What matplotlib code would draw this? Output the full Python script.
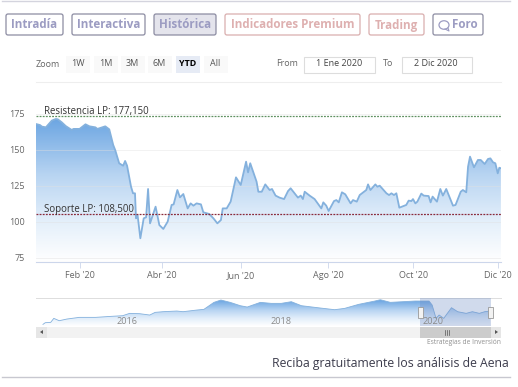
import numpy as np
import matplotlib
matplotlib.use('Agg')
import matplotlib.pyplot as plt
from matplotlib.patches import Rectangle, FancyBboxPatch, Ellipse, Polygon
from matplotlib.colors import LinearSegmentedColormap

plt.rcParams['font.family'] = ['Open Sans', 'DejaVu Sans']

# main series, x is the session number on the ordinal axis
sessions = [0, 2, 3, 5, 6, 8, 10, 11, 13, 15, 18, 19, 22, 25, 27, 30, 31, 33, 35, 37, 39, 40, 42, 44, 45, 46, 48, 49, 50,
            50.5, 51.3, 52.7, 54.4, 55.6, 56.6, 57.6, 60.4, 62.3, 64.3, 66.5, 68.5, 69.5, 71.4, 72.7, 74.4, 76.6, 78.1,
            79.5, 81.1, 83.3, 84.5, 87.5, 89.6, 91.6, 93.4, 94.3, 96.3, 98.3, 101, 103.4, 106.1, 107.1, 108.2, 111.4,
            112.3, 114, 115.8, 118, 119.2, 121, 123, 125.3, 127.3, 128.6, 132.3, 133.7, 134.8, 135.7, 138.2, 140.7,
            144.1, 145.1, 146.6, 147.8, 150.5, 151.7, 152.9, 154.5, 156.2, 158.9, 160.1, 162, 163.5, 166.8, 167.7,
            168.9, 171.4, 172.4, 173.6, 177, 178.3, 179.5, 180.8, 182, 183.5, 187, 188.2, 189.6, 190.4, 191.6, 192.6,
            194.6, 195.8, 198.3, 199.3, 200.3, 202.5, 204.2, 205.5, 207.2, 210.6, 211.9, 214.5, 215.6, 217.3, 218.2,
            219.2, 221.2, 223.2, 224.6, 226.6, 228.3, 229.5, 230.8, 232, 233.2, 234, 234.8]
prices = [168.0, 167.3, 166.2, 165.7, 167.3, 170.4, 171.5, 171.3, 169.2, 166.6, 163.9, 164.6, 164.6, 167.8, 166.4, 165.7,
          164.6, 165.5, 166.4, 164.3, 153.4, 149.9, 140.7, 139.0, 142.3, 139.0, 124.4, 119.8, 119.8,
          102.4, 104.7, 88.5, 102.4, 103.1, 122.8, 98.9, 110.5, 97.7, 95.0, 100.1, 111.7, 112.1, 122.1, 117.0, 119.3,
          109.3, 112.8, 111.2, 112.8, 112.1, 106.6, 105.4, 102.4, 98.9, 101.2, 109.3, 109.3, 114.0, 130.9, 125.6,
          141.8, 134.4, 140.7, 127.9, 120.9, 120.9, 126.0, 122.1, 122.8, 118.2, 116.8, 115.8, 121.4, 123.3, 116.8,
          118.2, 115.8, 120.9, 118.2, 115.8, 109.3, 113.5, 111.2, 107.5, 114.4, 115.1, 113.5, 120.5, 119.1, 112.8,
          115.1, 114.0, 118.6, 122.1, 126.0, 122.1, 126.0, 124.4, 125.1, 119.8, 118.6, 119.8, 118.6, 119.8, 109.8,
          111.7, 114.7, 114.4, 115.8, 112.8, 114.0, 119.6, 118.2, 117.9, 113.5, 117.5, 114.0, 122.8, 118.2, 122.8,
          111.2, 111.7, 120.9, 122.1, 120.5, 138.3, 145.3, 137.9, 143.0, 143.0, 140.2, 143.7, 144.1, 141.4, 140.7,
          133.7, 137.6, 137.2]

y_ticks = [75, 100, 125, 150, 175]
x_ticks = [22, 63.6, 103.4, 147.6, 190.6, 233.3]
x_labels = ["Feb '20", "Abr '20", "Jun '20", "Ago '20", "Oct '20", "Dic '20"]
resistance = 173.4
support = 105.2

# navigator series
nav_years = [2015.12, 2015.15, 2015.22, 2015.26, 2015.33, 2015.43, 2015.59, 2015.80, 2016.0, 2016.15, 2016.24, 2016.37,
             2016.5, 2016.57, 2016.67, 2016.85, 2016.93, 2017.11, 2017.2, 2017.33, 2017.42, 2017.54, 2017.67, 2017.76,
             2017.93, 2018.07, 2018.2, 2018.33, 2018.46, 2018.67, 2018.89, 2019.02, 2019.2, 2019.41, 2019.48, 2019.61,
             2019.93, 2020.11, 2020.15, 2020.2, 2020.24, 2020.3, 2020.4, 2020.48, 2020.59, 2020.67, 2020.76, 2020.83,
             2020.9]
nav_prices = [61.5, 69, 70.5, 88.5, 78, 85.5, 93, 93, 97.5, 100.5, 111, 109.5, 103.5, 115.5, 118.5, 121.5, 118.5, 126,
              129, 160.5, 171, 160.5, 145.5, 139.5, 160.5, 156, 156, 163.5, 145.5, 136.5, 127.5, 133.5, 151.5, 166.5,
              172.5, 160.5, 166.5, 166.5, 148.5, 88.5, 103.5, 88.5, 136.5, 118.5, 111, 118.5, 111, 118.5, 121.5]
nav_labels = ['2016', '2018', '2020']

buttons = ['Intradía', 'Interactiva', 'Histórica', 'Indicadores Premium', 'Trading', 'Foro']
zoom_labels = ['1W', '1M', '3M', '6M', 'YTD', 'All']

blue_fade = LinearSegmentedColormap.from_list('fade', [(0, '#6ba5e2'), (0.4, '#b9d5f2'), (0.7, '#e2eefa'), (1, '#ffffff')])


def gradient_area(ax, x, y, bottom):
    top = max(y)
    im = ax.imshow(np.linspace(0, 1, 256).reshape(-1, 1), cmap=blue_fade, aspect='auto',
                   extent=[min(x), max(x), bottom, top], zorder=1)
    pts = [(x[0], bottom)] + list(zip(x, y)) + [(x[-1], bottom)]
    poly = Polygon(pts, closed=True, transform=ax.transData, fc='none', ec='none')
    ax.add_patch(poly)
    im.set_clip_path(poly)


fig = plt.figure(figsize=(5.18, 3.87), dpi=100, facecolor='white')

# page furniture, drawn in pixel coordinates
page = fig.add_axes([0, 0, 1, 1])
page.set_xlim(0, 518)
page.set_ylim(387, 0)
page.axis('off')

page.plot([2, 510], [1, 1], color='#d4d4de', lw=1)
page.plot([2, 510], [377, 377], color='#c8c8d0', lw=1)
page.plot([36, 501], [82, 82], color='#eeeeee', lw=0.8)

button_x = [(5, 64), (71, 146), (153, 217), (224, 361), (368, 425), (432, 484)]
for i in range(len(buttons)):
    x0, x1 = button_x[i]
    red = buttons[i] in ('Indicadores Premium', 'Trading')
    edge = '#d9aeae' if red else '#8c8ca2'
    face = '#e4e4ec' if buttons[i] == 'Histórica' else 'white'
    txt = '#deb0b0' if red else '#9c9cc2'
    page.add_patch(FancyBboxPatch((x0 + 1, 14), x1 - x0 - 2, 21, boxstyle='round,pad=0,rounding_size=2',
                                  fc=face, ec=edge, lw=0.9))
    cx = (x0 + x1) / 2
    if buttons[i] == 'Foro':
        cx = 465
    page.text(cx, 25, buttons[i], ha='center', va='center', fontsize=8.4, fontweight='bold', color=txt)
page.add_patch(Ellipse((444, 25), 10, 8.5, fc='white', ec='#9c9cc2', lw=0.9))
page.plot([445, 449, 448], [29, 31, 28], color='#9c9cc2', lw=0.8)

page.text(36, 64.5, 'Zoom', ha='left', va='center', fontsize=6.5, color='#666666')
zoom_x = [66, 94, 121, 148, 176, 204]
for i in range(len(zoom_labels)):
    sel = zoom_labels[i] == 'YTD'
    page.add_patch(Rectangle((zoom_x[i], 56), 24, 17, fc='#e6ebf5' if sel else '#f9f9f9', ec='none'))
    page.text(zoom_x[i] + 11.5, 64, zoom_labels[i], ha='center', va='center', fontsize=6.5,
              fontweight='bold' if sel else 'normal', color='#000000' if sel else '#555555')

page.text(276, 64, 'From', ha='left', va='center', fontsize=6.5, color='#666666')
page.text(383, 64, 'To', ha='left', va='center', fontsize=6.5, color='#666666')
page.add_patch(Rectangle((303.5, 56.5), 71, 16, fc='white', ec='#dddddd', lw=0.8))
page.add_patch(Rectangle((401.5, 56.5), 70, 16, fc='white', ec='#dddddd', lw=0.8))
page.text(339, 64, '1 Ene 2020', ha='center', va='center', fontsize=6.5, color='#444444')
page.text(436, 64, '2 Dic 2020', ha='center', va='center', fontsize=6.5, color='#444444')

page.text(501, 342, 'Estrategias de Inversión', ha='right', va='center', fontsize=4.8, color='#909090')
page.text(509, 363, 'Reciba gratuitamente los análisis de Aena', ha='right', va='center', fontsize=8.85, color='#3c3c4c')

# main chart
ax = fig.add_axes([36 / 518, 1 - 262.3 / 387, 465 / 518, (262.3 - 97) / 387])
ax.patch.set_alpha(0)
gradient_area(ax, sessions, prices, 71.8)
ax.plot(sessions, prices, color='#84b1dd', lw=1.3, zorder=3)
ax.set_xlim(0, 234.85)
ax.set_ylim(71.8, 186.8)
ax.set_yticks(y_ticks)
ax.set_xticks(x_ticks)
ax.set_xticklabels(x_labels)
ax.grid(axis='y', color='#e0e0e0', lw=0.6, alpha=0.5, zorder=2)
ax.set_axisbelow(False)
ax.tick_params(axis='y', length=0, labelsize=6.5, labelcolor='#666666', pad=8)
ax.tick_params(axis='x', length=4, width=0.6, color='#ccd6eb', labelsize=6.5, labelcolor='#666666', pad=2)
for s in ['top', 'left', 'right']:
    ax.spines[s].set_visible(False)
ax.spines['bottom'].set_color('#ccd6eb')
ax.spines['bottom'].set_linewidth(0.8)
ax.axhline(resistance, color='#5f9060', lw=0.9, ls=(0, (1.5, 1)), zorder=4)
ax.axhline(support, color='#8a2a3a', lw=0.9, ls=(0, (1.5, 1)), zorder=4)
ax.annotate('Resistencia LP: 177,150', (4, resistance), xytext=(0, 1.5), textcoords='offset points',
            fontsize=6.9, color='#333333', zorder=5)
ax.annotate('Soporte LP: 108,500', (4, support), xytext=(0, 1.5), textcoords='offset points',
            fontsize=6.9, color='#333333', zorder=5)

# navigator
nav = fig.add_axes([36 / 518, 1 - 325.7 / 387, 465 / 518, 28 / 387])
nav.patch.set_alpha(0)
gradient_area(nav, nav_years, nav_prices, 55.5)
nav.plot(nav_years, nav_prices, color='#84b1dd', lw=0.6, zorder=3)
nav.set_xlim(2015.03, 2021.04)
nav.set_ylim(55.5, 181.5)
nav.set_yticks([])
nav.set_xticks([])
for s in ['left', 'right', 'bottom']:
    nav.spines[s].set_visible(False)
nav.spines['top'].set_color('#dddddd')
nav.spines['top'].set_linewidth(0.7)

# selected range, scrollbar and labels
page.set_zorder(3)
page.add_patch(Rectangle((36, 327), 465, 11, fc='#f2f2f2', ec='none'))
page.add_patch(Rectangle((420, 298), 71, 28, fc='#6685c2', alpha=0.3, ec='none'))
page.add_patch(Rectangle((420, 327), 71, 11, fc='#cccccc', ec='none'))
page.add_patch(Rectangle((36, 327), 11, 11, fc='#e6e6e6', ec='none'))
page.add_patch(Rectangle((491, 327), 10, 11, fc='#e6e6e6', ec='none'))
page.add_patch(Polygon([(43, 330), (43, 334), (40, 332)], fc='#555555', ec='none'))
page.add_patch(Polygon([(495, 330), (495, 334), (498, 332)], fc='#555555', ec='none'))
page.plot([445, 445], [330, 335], color='#555555', lw=0.5)
page.plot([447, 447], [330, 335], color='#555555', lw=0.5)
page.plot([449, 449], [330, 335], color='#555555', lw=0.5)
for hx in [420, 490.5]:
    page.add_patch(Rectangle((hx - 2.5, 307), 5, 11, fc='#f2f2f2', ec='#999999', lw=0.6))
nav_label_x = [127, 281, 433]
for i in range(len(nav_labels)):
    page.text(nav_label_x[i], 321, nav_labels[i], ha='center', va='center', fontsize=6.6, color='#8a8a8a')

fig.savefig('out.png', dpi=100, facecolor='white')
